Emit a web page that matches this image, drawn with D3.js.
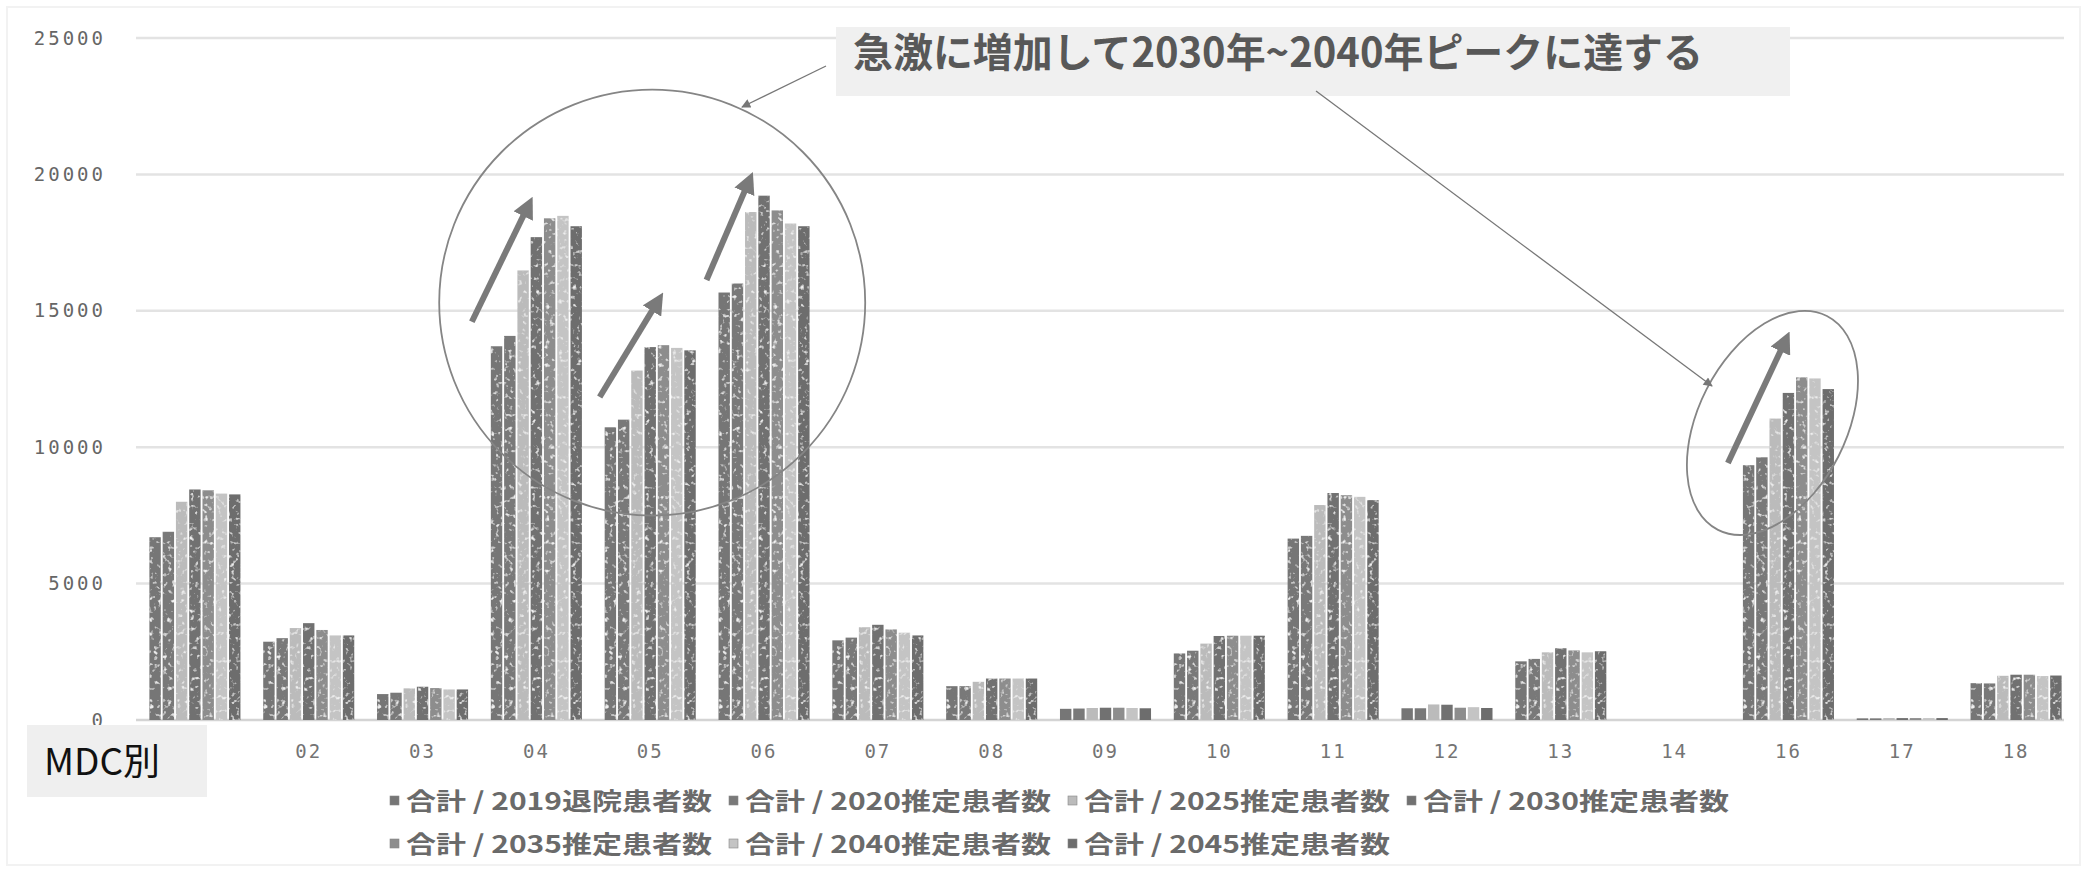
<!DOCTYPE html>
<html>
<head>
<meta charset="utf-8">
<script src="https://cdn.jsdelivr.net/npm/d3@7/dist/d3.min.js"></script>
<style>
  html, body { margin: 0; padding: 0; background: #ffffff; }
  svg { display: block; }
</style>
</head>
<body>
<svg id="chart" width="2087" height="872"></svg>
<script>
// ---------------- DATA ----------------
const categories = ["01","02","03","04","05","06","07","08","09","10","11","12","13","14","16","17","18"];
const seriesNames = [
  "合計 / 2019退院患者数",
  "合計 / 2020推定患者数",
  "合計 / 2025推定患者数",
  "合計 / 2030推定患者数",
  "合計 / 2035推定患者数",
  "合計 / 2040推定患者数",
  "合計 / 2045推定患者数"
];
const v2019 = [6700,2870, 950,13700,10730,15670,2920,1240,410,2440,6650,430,2150,0, 9340,60,1350];
const v2020 = [6900,3000,1000,14080,11010,16000,3020,1240,420,2540,6750,430,2240,0, 9630,60,1340];
const v2025 = [8000,3370,1160,16480,12810,18620,3400,1400,440,2800,7880,570,2480,0,11050,70,1620];
const v2030 = [8450,3550,1220,17700,13670,19220,3490,1520,450,3080,8320,560,2630,0,11990,70,1660];
const v2035 = [8420,3300,1170,18390,13740,18680,3320,1520,450,3090,8240,450,2550,0,12560,70,1660];
const v2040 = [8300,3100,1120,18480,13640,18200,3200,1520,440,3090,8180,470,2480,0,12520,70,1610];
const v2045 = [8270,3100,1120,18100,13550,18100,3100,1520,430,3090,8060,440,2520,0,12130,70,1630];
const seriesValues = [v2019, v2020, v2025, v2030, v2035, v2040, v2045];
const yTicks = [0, 5000, 10000, 15000, 20000, 25000];
const seriesColors = ["#767676","#797979","#bbbbbb","#717171","#8d8d8d","#c4c4c4","#6d6d6d"];
const calloutText = "急激に増加して2030年~2040年ピークに達する";
const axisTitle = "MDC別";

// ---------------- LAYOUT ----------------
const svg = d3.select("#chart");
const W = 2087, H = 872;
svg.append("rect").attr("width", W).attr("height", H).attr("fill", "#fff");
svg.append("rect").attr("x", 7).attr("y", 7).attr("width", W - 14).attr("height", H - 14)
  .attr("fill", "none").attr("stroke", "#f2f2f2").attr("stroke-width", 2);

const defs = svg.append("defs");
// speckled scan-like texture for the bars
const f = defs.append("filter").attr("id", "speck")
  .attr("x", 0).attr("y", 0).attr("width", 1).attr("height", 1);
f.append("feTurbulence").attr("type", "fractalNoise").attr("baseFrequency", 0.22)
  .attr("numOctaves", 2).attr("seed", 5).attr("result", "noise");
f.append("feColorMatrix").attr("in", "noise").attr("type", "matrix")
  .attr("values", "0 0 0 0 0.86  0 0 0 0 0.86  0 0 0 0 0.86  4 0 0 0 -2.35")
  .attr("result", "spots");
f.append("feComposite").attr("in", "spots").attr("in2", "SourceGraphic")
  .attr("operator", "in").attr("result", "clipped");
const fm = f.append("feMerge");
fm.append("feMergeNode").attr("in", "SourceGraphic");
fm.append("feMergeNode").attr("in", "clipped");

const x = d3.scaleBand().domain(categories).range([138, 2073]).paddingInner(0.2).paddingOuter(0.1);
const xs = d3.scaleBand().domain(d3.range(seriesNames.length)).range([0, x.bandwidth()]).paddingInner(0.14);
const y = d3.scaleLinear().domain([0, 25000]).range([720, 38]);

// gridlines
const gridG = svg.append("g");
gridG.selectAll("line").data(yTicks).join("line")
  .attr("x1", 136).attr("x2", 2064)
  .attr("y1", d => y(d)).attr("y2", d => y(d))
  .attr("stroke", d => d === 0 ? "#d4d4d4" : "#e3e3e3")
  .attr("stroke-width", 2.5);

// y axis labels
const yAxis = d3.axisLeft(y).tickValues(yTicks).tickSize(0).tickPadding(0).tickFormat(d3.format("d"));
const yg = svg.append("g").attr("transform", "translate(106,0)").call(yAxis);
yg.select(".domain").remove();
yg.selectAll("text")
  .attr("font-family", "'DejaVu Sans Mono', 'Liberation Mono', monospace")
  .attr("font-size", 19).attr("fill", "#666").attr("letter-spacing", 3)
  .attr("dy", "0.32em");

// bars
const groups = svg.append("g").selectAll("g").data(categories).join("g")
  .attr("transform", d => `translate(${x(d)},0)`);
groups.selectAll("rect")
  .data((c, ci) => seriesValues.map((arr, si) => ({ si, v: arr[ci] })))
  .join("rect")
  .attr("x", d => xs(d.si))
  .attr("width", xs.bandwidth())
  .attr("y", d => y(d.v))
  .attr("height", d => y(0) - y(d.v))
  .attr("fill", d => seriesColors[d.si])
  .attr("filter", d => (y(0) - y(d.v)) > 20 ? "url(#speck)" : null);

// x axis labels
const xAxis = d3.axisBottom(x).tickSize(0).tickPadding(0);
const xg = svg.append("g").attr("transform", "translate(0,752)").call(xAxis);
xg.select(".domain").remove();
xg.selectAll("text")
  .attr("font-family", "'DejaVu Sans Mono', 'Liberation Mono', monospace")
  .attr("font-size", 19).attr("fill", "#747474").attr("letter-spacing", 2)
  .attr("dy", "0.32em");

// MDC別 box (covers "01")
svg.append("rect").attr("x", 27).attr("y", 725).attr("width", 180).attr("height", 72).attr("fill", "#efefef");
svg.append("text").attr("x", 44).attr("y", 775).text(axisTitle)
  .attr("font-family", "'Noto Sans CJK JP', sans-serif").attr("font-size", 37).attr("fill", "#111");

// legend
const legendPos = [[390,801],[729,801],[1068,801],[1407,801],[390,844],[729,844],[1068,844]];
const lg = svg.append("g").selectAll("g").data(seriesNames).join("g")
  .attr("transform", (d, i) => `translate(${legendPos[i][0]},${legendPos[i][1]})`);
lg.append("rect").attr("x", 0).attr("y", -5).attr("width", 9).attr("height", 9)
  .attr("fill", (d, i) => seriesColors[i]).attr("stroke", "#888").attr("stroke-width", 0.6);
lg.append("text").attr("x", 16).attr("y", 0).attr("dy", "0.36em").text(d => d)
  .attr("font-family", "'Noto Sans CJK JP', sans-serif").attr("font-weight", "bold")
  .attr("font-size", 24).attr("fill", "#6a6a6a")
  .attr("textLength", 306).attr("lengthAdjust", "spacingAndGlyphs");

// ---------------- ANNOTATIONS ----------------
const ann = svg.append("g");
defs.append("marker").attr("id", "bigHead").attr("viewBox", "0 0 10 10")
  .attr("refX", 6).attr("refY", 5).attr("markerWidth", 3.6).attr("markerHeight", 3.6)
  .attr("orient", "auto").attr("markerUnits", "strokeWidth")
  .append("path").attr("d", "M0,0 L10,5 L0,10 Z").attr("fill", "#7a7a7a");
defs.append("marker").attr("id", "thinHead").attr("viewBox", "0 0 10 10")
  .attr("refX", 9).attr("refY", 5).attr("markerWidth", 9).attr("markerHeight", 7)
  .attr("orient", "auto").attr("markerUnits", "strokeWidth")
  .append("path").attr("d", "M0,0 L10,5 L0,10 Z").attr("fill", "#777");

// big circle around 04–06
ann.append("circle")
  .attr("cx", x("05") + x.bandwidth() / 2 + 2).attr("cy", y(15300)).attr("r", 213)
  .attr("fill", "none").attr("stroke", "#858585").attr("stroke-width", 1.8);
// ellipse around 16
ann.append("ellipse")
  .attr("transform", `translate(${x("16") + x.bandwidth() / 2 - 16},${y(10890)}) rotate(27)`)
  .attr("rx", 74).attr("ry", 120)
  .attr("fill", "none").attr("stroke", "#858585").attr("stroke-width", 1.8);

// thick arrows
const arrows = [
  { cat: "04", dx0: -19, v0: 14600, dx1: 38, v1: 18900 },
  { cat: "05", dx0: -5,  v0: 11840, dx1: 54, v1: 15400 },
  { cat: "06", dx0: -12, v0: 16130, dx1: 31, v1: 19800 },
  { cat: "16", dx0: -15, v0: 9420,  dx1: 43, v1: 13950 }
];
ann.selectAll("line.big").data(arrows).join("line").attr("class", "big")
  .attr("x1", d => x(d.cat) + d.dx0).attr("y1", d => y(d.v0))
  .attr("x2", d => x(d.cat) + d.dx1).attr("y2", d => y(d.v1))
  .attr("stroke", "#7a7a7a").attr("stroke-width", 6).attr("marker-end", "url(#bigHead)");

// callout box
ann.append("rect").attr("x", 836).attr("y", 27).attr("width", 954).attr("height", 69).attr("fill", "#f0f0f0");
ann.append("text").attr("x", 853).attr("y", 53).attr("dy", "0.36em").text(calloutText)
  .attr("font-family", "'Noto Sans CJK JP', sans-serif").attr("font-weight", "bold")
  .attr("font-size", 40).attr("fill", "#585858")
  .attr("textLength", 850).attr("lengthAdjust", "spacingAndGlyphs");

// leader lines
ann.append("line").attr("x1", 826).attr("y1", 66).attr("x2", 742).attr("y2", 107)
  .attr("stroke", "#777").attr("stroke-width", 1.3).attr("marker-end", "url(#thinHead)");
ann.append("line").attr("x1", 1316).attr("y1", 91).attr("x2", 1712).attr("y2", 386)
  .attr("stroke", "#777").attr("stroke-width", 1.3).attr("marker-end", "url(#thinHead)");
</script>
</body>
</html>
